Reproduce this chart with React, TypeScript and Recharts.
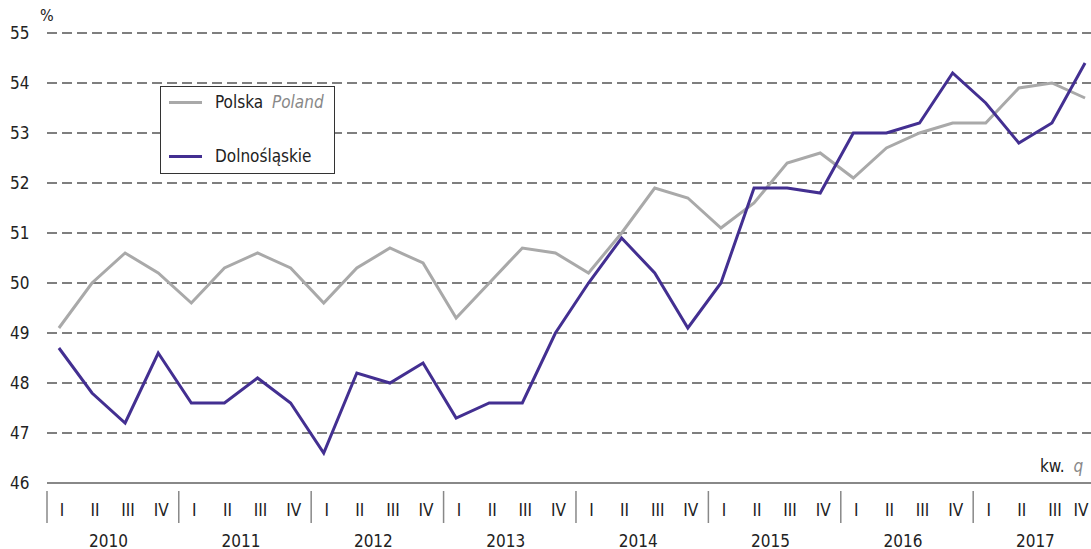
import { LineChart, Line, XAxis, YAxis, CartesianGrid } from "recharts";

const years = [2010, 2011, 2012, 2013, 2014, 2015, 2016, 2017];
const quarterLabels = ["I", "II", "III", "IV"];
const yTicks = [46, 47, 48, 49, 50, 51, 52, 53, 54, 55];

// Polska (Poland), % per quarter 2010 I – 2017 IV
const polska = [
  49.1, 50.0, 50.6, 50.2, 49.6, 50.3, 50.6, 50.3, 49.6, 50.3, 50.7, 50.4, 49.3, 50.0, 50.7, 50.6,
  50.2, 51.0, 51.9, 51.7, 51.1, 51.6, 52.4, 52.6, 52.1, 52.7, 53.0, 53.2, 53.2, 53.9, 54.0, 53.7,
];
// Dolnośląskie
const dolnoslaskie = [
  48.7, 47.8, 47.2, 48.6, 47.6, 47.6, 48.1, 47.6, 46.6, 48.2, 48.0, 48.4, 47.3, 47.6, 47.6, 49.0,
  50.0, 50.9, 50.2, 49.1, 50.0, 51.9, 51.9, 51.8, 53.0, 53.0, 53.2, 54.2, 53.6, 52.8, 53.2, 54.4,
];

const data = polska.map((p, i) => ({
  i,
  year: years[Math.floor(i / 4)],
  q: quarterLabels[i % 4],
  polska: p,
  dolnoslaskie: dolnoslaskie[i],
}));

const FONT = "'Liberation Sans Narrow', 'DejaVu Sans Condensed', 'Roboto Condensed', sans-serif";
const GRAY = "#a9a9a9";
const PURPLE = "#432f91";
const STEP = 33.1;

const QuarterTick = (props: any) => {
  const { x, y, payload } = props;
  const i = payload.value as number;
  const d = data[i];
  if (!d) return null;
  const sep = Math.max(x - STEP / 2 + 4, 47);
  return (
    <g>
      <text x={i === data.length - 1 ? x - 4 : x + 3} y={y + 25} textAnchor="middle" fontSize={17} fontFamily={FONT} fill="#222">
        {d.q}
      </text>
      {i % 4 === 0 && (
        <>
          <line x1={sep} x2={sep} y1={y} y2={y + 32} stroke="#888" strokeWidth={1.5} />
          <text x={x + 1.5 * STEP} y={y + 56} textAnchor="middle" fontSize={17} fontFamily={FONT} fill="#222">
            {d.year}
          </text>
        </>
      )}
    </g>
  );
};

const ValueTick = (props: any) => {
  const { y, payload } = props;
  return (
    <text x={10} y={y + 6} textAnchor="start" fontSize={17} fontFamily={FONT} fill="#222">
      {payload.value}
    </text>
  );
};

export default function App() {
  return (
    <div style={{ position: "absolute", left: 0, top: 0, width: 1091, height: 549, overflow: "hidden", background: "#fff" }}>
      <LineChart width={1091} height={549} data={data} margin={{ top: 33, right: 0, bottom: 0, left: 0 }}>
        <CartesianGrid vertical={false} stroke="#555" strokeDasharray="10 5" strokeWidth={1.3} />
        <XAxis
          dataKey="i"
          type="number"
          domain={[-0.36, 31.18]}
          allowDataOverflow
          ticks={data.map((d) => d.i)}
          interval={0}
          height={66}
          tickLine={false}
          axisLine={{ stroke: "#888", strokeWidth: 2 }}
          tick={<QuarterTick />}
        />
        <YAxis
          width={47}
          domain={[46, 55]}
          ticks={yTicks}
          interval={0}
          axisLine={false}
          tickLine={false}
          tick={<ValueTick />}
        />
        <Line type="linear" dataKey="polska" name="Polska" stroke={GRAY} strokeWidth={3} dot={false} isAnimationActive={false} />
        <Line type="linear" dataKey="dolnoslaskie" name="Dolnośląskie" stroke={PURPLE} strokeWidth={3} dot={false} isAnimationActive={false} />
      </LineChart>
      <div
        style={{
          position: "absolute",
          left: 160,
          top: 86,
          width: 175,
          height: 88,
          border: "1px solid #333",
          background: "#fff",
          fontFamily: FONT,
          fontSize: 17,
          color: "#222",
          boxSizing: "border-box",
        }}
      >
        <div style={{ position: "absolute", left: 8, top: 14, width: 33, height: 3, background: GRAY }} />
        <div style={{ position: "absolute", left: 54, top: 5, whiteSpace: "nowrap" }}>
          Polska <span style={{ fontStyle: "italic", color: "#888", marginLeft: 4 }}>Poland</span>
        </div>
        <div style={{ position: "absolute", left: 8, top: 68, width: 33, height: 3, background: PURPLE }} />
        <div style={{ position: "absolute", left: 54, top: 59, whiteSpace: "nowrap" }}>Dolnośląskie</div>
      </div>
      <div style={{ position: "absolute", left: 40, top: 6, fontFamily: FONT, fontSize: 16, color: "#222" }}>%</div>
      <div style={{ position: "absolute", left: 1040, top: 456, fontFamily: FONT, fontSize: 17, color: "#222", whiteSpace: "nowrap" }}>
        kw. <span style={{ fontStyle: "italic", color: "#888", marginLeft: 4 }}>q</span>
      </div>
    </div>
  );
}
